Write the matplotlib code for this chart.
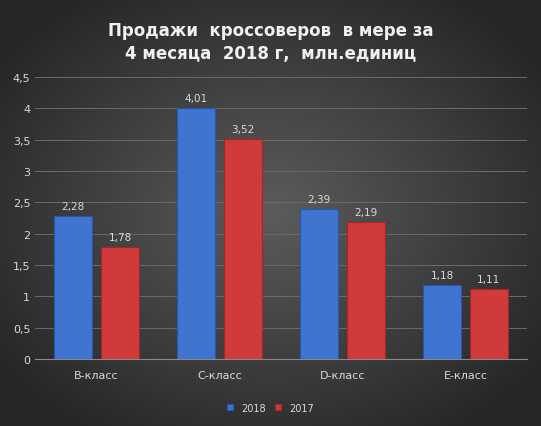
import numpy as np
import matplotlib
matplotlib.use("Agg")
import matplotlib.pyplot as plt

categories = ["B-класс", "C-класс", "D-класс", "E-класс"]
v2018 = [2.28, 4.01, 2.39, 1.18]
v2017 = [1.78, 3.52, 2.19, 1.11]
labels2018 = ["2,28", "4,01", "2,39", "1,18"]
labels2017 = ["1,78", "3,52", "2,19", "1,11"]
yticks = [0, 0.5, 1, 1.5, 2, 2.5, 3, 3.5, 4, 4.5]
yticklabels = ["0", "0,5", "1", "1,5", "2", "2,5", "3", "3,5", "4", "4,5"]

fig = plt.figure(figsize=(5.41, 4.27), dpi=100)
bg = fig.add_axes([0, 0, 1, 1])
yy, xx = np.mgrid[-1:1:200j, -1:1:200j]
r = np.sqrt(xx**2 + yy**2)
g = np.clip(0.36 - 0.17 * r, 0.15, 0.4)
bg.imshow(np.dstack([g, g, g]), aspect="auto", extent=[0, 1, 0, 1])
bg.axis("off")

ax = fig.add_axes([0.065, 0.157, 0.909, 0.66])
ax.set_facecolor("none")
x = np.arange(len(categories))
w = 0.31
off = 0.19
b1 = ax.bar(x - off, v2018, w, color="#3f74d0", edgecolor="#2a55a8", linewidth=0.8, label="2018")
b2 = ax.bar(x + off, v2017, w, color="#d03a3a", edgecolor="#a02828", linewidth=0.8, label="2017")
for xi, v, l in zip(x - off, v2018, labels2018):
    ax.text(xi, v + 0.08, l, ha="center", va="bottom", color="#d9d9d9", fontsize=7.5)
for xi, v, l in zip(x + off, v2017, labels2017):
    ax.text(xi, v + 0.08, l, ha="center", va="bottom", color="#d9d9d9", fontsize=7.5)
ax.set_ylim(0, 4.5)
ax.set_xlim(-0.5, 3.5)
ax.set_yticks(yticks)
ax.set_yticklabels(yticklabels)
ax.set_xticks(x)
ax.set_xticklabels(categories)
ax.tick_params(colors="#d9d9d9", labelsize=8, length=0)
ax.tick_params(axis="x", pad=8)
ax.grid(axis="y", color="#6a6a6a", linewidth=0.7)
ax.set_axisbelow(True)
for s in ["top", "right", "left"]:
    ax.spines[s].set_visible(False)
ax.spines["bottom"].set_color("#8a8a8a")
fig.text(0.5, 0.9, "Продажи  кроссоверов  в мере за\n4 месяца  2018 г,  млн.единиц",
         ha="center", va="center", color="#f0f0f0", fontsize=12, fontweight="bold", linespacing=1.35)
fig.legend(handles=[b1, b2], loc="center", bbox_to_anchor=(0.5, 0.043), ncol=2, frameon=False,
           fontsize=7, labelcolor="#d9d9d9", handlelength=0.6, handleheight=0.6, columnspacing=1)
fig.savefig("out.png", dpi=100)
